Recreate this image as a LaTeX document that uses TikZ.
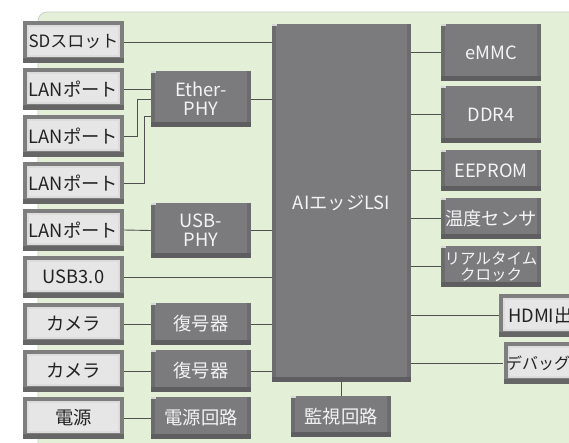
\documentclass[tikz,border=0pt]{standalone}
\usepackage{fontspec}
\newfontfamily\jp{Noto Sans CJK JP}
\usetikzlibrary{calc}
\definecolor{panelfill}{HTML}{E3EFD6}
\definecolor{panelline}{HTML}{C9CEC9}
\definecolor{lbframe}{HTML}{7E7E7E}
\definecolor{lbframedk}{HTML}{666666}
\definecolor{lbinner}{HTML}{DCDCDC}
\definecolor{lbhi}{HTML}{E6E6E6}
\definecolor{dbfill}{HTML}{7B7B7D}
\definecolor{dbside}{HTML}{6C6C6E}
\definecolor{dbdark}{HTML}{5E5E60}
\definecolor{wire}{HTML}{505050}
\definecolor{txtdark}{HTML}{222222}
\definecolor{txtlight}{HTML}{F4F4F4}
\tikzset{
  lbox/.style={fill=lbframe, inner sep=0pt, text=txtdark, font=\jp\fontsize{18.3}{20}\selectfont,
    minimum width=101pt, minimum height=42pt, align=center,
    path picture={
      \fill[lbframedk] (path picture bounding box.south west) rectangle ([yshift=5pt]path picture bounding box.south east);
      \fill[lbinner] ([shift={(4pt,-4pt)}]path picture bounding box.north west) rectangle ([shift={(-4pt,6pt)}]path picture bounding box.south east);
      \fill[lbhi] ([shift={(6pt,-6pt)}]path picture bounding box.north west) rectangle ([shift={(-6pt,8pt)}]path picture bounding box.south east);
    }},
  dbox/.style={fill=dbfill, inner sep=0pt, text=txtlight, font=\jp\fontsize{18.3}{20}\selectfont,
    minimum width=100pt, align=center,
    path picture={
      \fill[dbside] (path picture bounding box.north west) rectangle ([shift={(4pt,0pt)}]path picture bounding box.south west);
      \fill[dbside] ([shift={(-4pt,0pt)}]path picture bounding box.north east) rectangle (path picture bounding box.south east);
      \fill[dbdark] (path picture bounding box.south west) rectangle ([yshift=5pt]path picture bounding box.south east);
      \fill[white!70!dbfill] (path picture bounding box.north west) rectangle ([shift={(5pt,-2pt)}]path picture bounding box.north west);
    }},
  wireline/.style={draw=wire, line width=0.9pt},
}
\begin{document}
\begin{tikzpicture}[x=1pt,y=-1pt]
\useasboundingbox (0,0) rectangle (569,442);
\clip (0,0) rectangle (569,442);
\fill[white] (0,0) rectangle (569,442);
\draw[fill=panelfill, draw=panelline, line width=0.8pt, rounded corners=9pt] (38,12) rectangle (640,480);

% left light boxes
\node[lbox, font=\jp\fontsize{17}{19}\selectfont] (sd) at (73.5,42) {SDスロット};
\node[lbox] (lan1) at (73.5,89)  {LANポート};
\node[lbox] (lan2) at (73.5,136) {LANポート};
\node[lbox] (lan3) at (73.5,183) {LANポート};
\node[lbox] (lan4) at (73.5,230) {LANポート};
\node[lbox] (usb3) at (73.5,277) {USB3.0};
\node[lbox] (cam1) at (73.5,324) {カメラ};
\node[lbox] (cam2) at (73.5,371) {カメラ};
\node[lbox] (pwr)  at (73.5,418) {電源};

% middle dark boxes
\node[dbox, minimum height=56pt] (eth) at (201,99) {Ether-\\[-1pt]PHY};
\node[dbox, minimum height=55pt] (usbphy) at (201,230.5) {USB-\\[-1pt]PHY};
\node[dbox, minimum height=42pt] (dec1) at (201,324) {復号器};
\node[dbox, minimum height=42pt] (dec2) at (201,371) {復号器};
\node[dbox, minimum height=42pt] (pwrc) at (201,418) {電源回路};

% LSI
\node[dbox, minimum width=139pt, minimum height=358pt] (lsi) at (341.5,203) {AIエッジLSI};

% right boxes
\node[dbox, minimum height=57pt] (emmc) at (491,52.5)  {eMMC};
\node[dbox, minimum height=57pt] (ddr)  at (491,114.5) {DDR4};
\node[dbox, minimum height=41pt] (eep)  at (491,170.5) {EEPROM};
\node[dbox, minimum height=41pt] (temp) at (491,218.5) {温度センサ};
\node[dbox, minimum height=41pt, font=\jp\fontsize{15.5}{17}\selectfont] (rtc) at (491,266.5) {リアルタイム\\[-1pt]クロック};
\node[lbox, minimum height=43pt] (hdmi) at (549.5,315.5) {HDMI出力};
\node[lbox, minimum height=42pt, font=\jp\fontsize{16}{18}\selectfont] (dbg) at (554,363) {デバッグ端子};
\node[dbox, minimum height=41pt] (mon)  at (341,416.5) {監視回路};

% connectors left
\draw[wireline] (sd.east) -- (sd.east -| lsi.west);
\draw[wireline] (lan1.east) -- ($(eth.west)+(0,-10)$);
\draw[wireline] (lan2.east) -- ++(13,0) |- (eth.west);
\draw[wireline] (lan3.east) -- ++(20,0) |- ($(eth.west)+(0,17)$);
\draw[wireline] (eth.east) -- (eth.east -| lsi.west);
\draw[wireline] (lan4.east) -- (usbphy.west);
\draw[wireline] (usbphy.east) -- (usbphy.east -| lsi.west);
\draw[wireline] (usb3.east) -- (usb3.east -| lsi.west);
\draw[wireline] (cam1.east) -- (dec1.west);
\draw[wireline] (dec1.east) -- (dec1.east -| lsi.west);
\draw[wireline] (cam2.east) -- (dec2.west);
\draw[wireline] (dec2.east) -- (dec2.east -| lsi.west);
\draw[wireline] (pwr.east) -- (pwrc.west);

% connectors right
\draw[wireline] (emmc.west -| lsi.east) -- (emmc.west);
\draw[wireline] (ddr.west -| lsi.east) -- (ddr.west);
\draw[wireline] (eep.west -| lsi.east) -- (eep.west);
\draw[wireline] (temp.west -| lsi.east) -- (temp.west);
\draw[wireline] (rtc.west -| lsi.east) -- (rtc.west);
\draw[wireline] (hdmi.west -| lsi.east) -- (hdmi.west);
\draw[wireline] (dbg.west -| lsi.east) -- (dbg.west);
\draw[wireline] (lsi.south -| mon.north) -- (mon.north);
\end{tikzpicture}
\end{document}
